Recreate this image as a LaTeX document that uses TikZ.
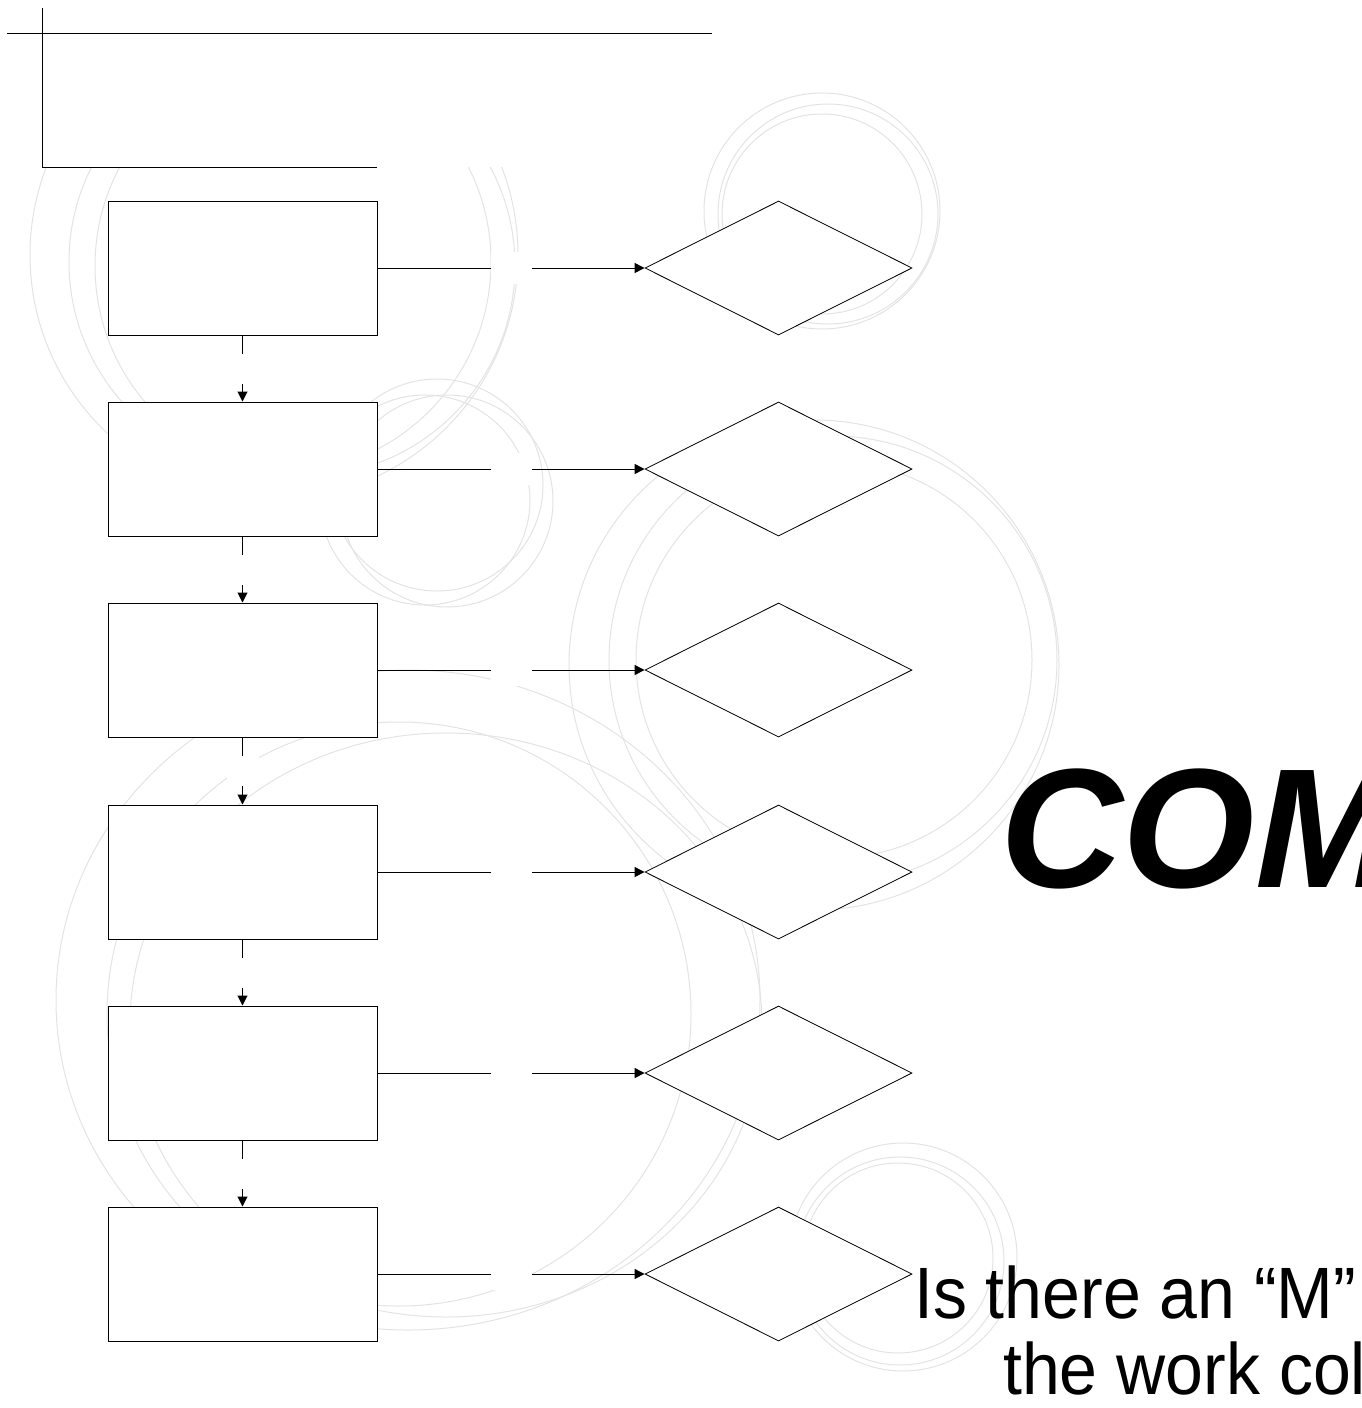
\documentclass[tikz,border=0pt]{standalone}
\usepackage{fontspec}
\setmainfont{Liberation Sans}
\usetikzlibrary{shapes.geometric,arrows.meta}
\tikzset{
  ring/.style={draw=black!11, line width=1pt},
  stepbox/.style={draw=black, fill=white, line width=1pt, minimum width=269pt, minimum height=134pt, inner sep=0pt},
  decision/.style={diamond, aspect=2, draw=black, fill=white, line width=0.8pt, minimum width=267pt, minimum height=134pt, inner sep=0pt},
  arr/.style={draw=black, line width=1pt, -{Triangle[length=10pt,width=10pt]}},
  gaph/.style={fill=white, minimum width=41pt, minimum height=32pt, inner sep=0pt},
  gapv/.style={fill=white, minimum width=32pt, minimum height=30pt, inner sep=0pt},
  rule/.style={draw=black, line width=1pt},
  bigtext/.style={anchor=base west, inner sep=0pt, font=\fontsize{170}{170}\selectfont\bfseries\itshape},
  qtext/.style={anchor=base west, inner sep=0pt, font=\fontsize{68}{68}\selectfont}
}
\begin{document}
\begin{tikzpicture}[x=1pt,y=-1pt]
\useasboundingbox (0,0) rectangle (1362,1408);
% background rings
\draw[ring] (274,255) circle (244);
\draw[ring] (280,262) circle (211);
\draw[ring] (305,266) circle (210);
\draw[ring] (437,485) circle (106);
\draw[ring] (447,501) circle (106);
\draw[ring] (425,500) circle (105);
\draw[ring] (822,211) circle (118);
\draw[ring] (828,214) circle (110);
\draw[ring] (822,214) circle (100);
\draw[ring] (814,665) circle (245);
\draw[ring] (833,660) circle (224);
\draw[ring] (834,660) circle (198);
\draw[ring] (408,1000) ellipse [x radius=352, y radius=330];
\draw[ring] (399,1014) circle (292);
\draw[ring] (446,1025) ellipse [x radius=316, y radius=292];
\draw[ring] (903,1257) circle (114);
\draw[ring] (900,1261) circle (104);
\draw[ring] (898,1258) circle (95);
% header
\fill[white] (0,0) rectangle (712,167);
\coordinate (h1) at (7,33);
\coordinate (h2) at (712,33);
\coordinate (v1) at (42,8);
\coordinate (v2) at (42,167);
\coordinate (h3) at (377,167);
\draw[rule] (h1) -- (h2);
\draw[rule] (v1) -- (v2) -- (h3);
% steps
\foreach \i/\y in {1/268,2/469,3/670,4/872,5/1073,6/1274}{
  \node[stepbox] (b\i) at (242.5,\y) {};
  \node[decision] (d\i) at (778.5,\y) {};
}
\foreach \i in {1,...,6}{
  \draw[arr] (b\i.east) -- node[gaph]{} (d\i.west);
}
\foreach \i/\j in {1/2,2/3,3/4,4/5,5/6}{
  \draw[arr] (b\i.south) -- node[gapv]{} (b\j.north);
}
% texts
\node[bigtext] (title) at (1000,887) {COM};
\node[qtext] (q1) at (914,1318) {\scalebox{1}[1.07]{Is there an “M”}};
\node[qtext] (q2) at (1003,1394) {\scalebox{1}[1.07]{the work col}};
\end{tikzpicture}
\end{document}
